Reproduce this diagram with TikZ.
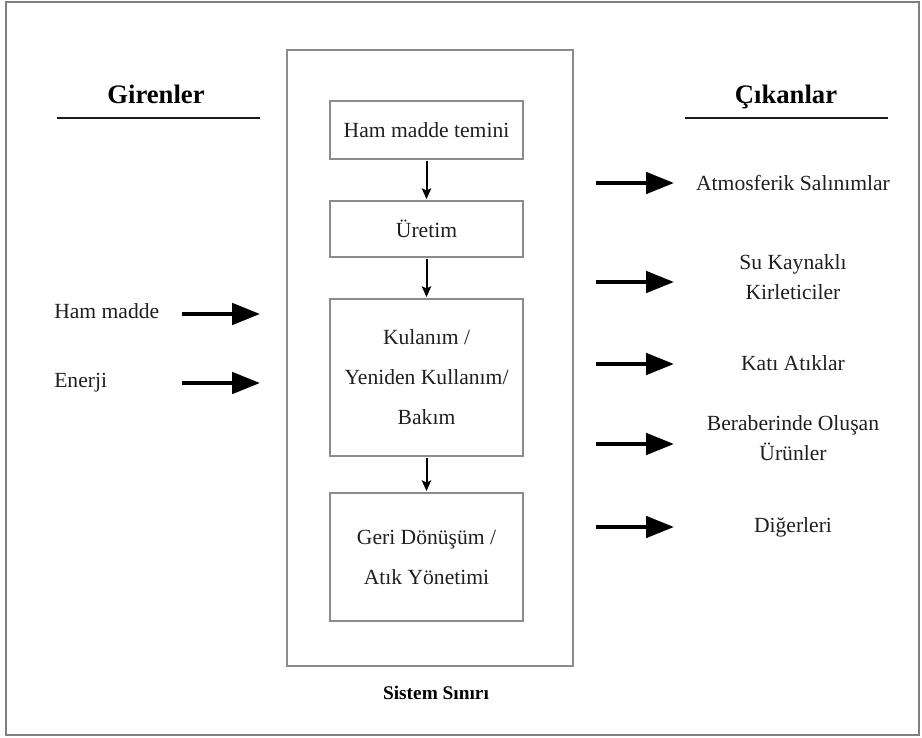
\documentclass[tikz,border=0pt]{standalone}
\usepackage{fontspec}
\setmainfont{Liberation Serif}
\usetikzlibrary{arrows.meta}
\begin{document}
\begin{tikzpicture}[x=0.75pt,y=-0.75pt,
  txt/.style={text=black!88, font=\fontsize{16.2}{22.5}\selectfont, align=center, inner sep=0pt},
  stagebox/.style={draw=black!45, line width=0.9pt, minimum width=144.75pt, inner sep=0pt,
    text=black!88, align=center, font=\fontsize{16.2}{30}\selectfont},
  heading/.style={font=\bfseries\fontsize{20}{24}\selectfont, text=black, inner sep=0pt, anchor=base},
  rule/.style={line width=2.2pt, draw=black!90},
  bigarrow/.style={line width=3pt, -{Triangle[length=21pt,width=16pt]}},
  flowarrow/.style={line width=1.5pt, -{Stealth[length=8pt,width=7pt,inset=1.5pt]}, shorten >=1pt, shorten <=1pt}]

\useasboundingbox (0,0) rectangle (922,738);
% outer frame
\draw[draw=black!50, line width=1pt] (6,2) rectangle (919,735);

% column headings
\node[heading] (inhead) at (156,104) {Girenler};
\node[heading] (outhead) at (786,104) {Çıkanlar};
\draw[rule] (57,118) coordinate (inruleL) -- (260,118) coordinate (inruleR);
\draw[rule] (685,118) coordinate (outruleL) -- (888,118) coordinate (outruleR);

% system boundary with the life-cycle stages
\node[draw=black!45, line width=0.9pt, minimum width=214.5pt, minimum height=462pt] (sys) at (430,358) {};
\node[heading, font=\bfseries\fontsize{14.5}{18}\selectfont] (syslabel) at (436,699) {Sistem Sınırı};

\node[stagebox, minimum height=43.5pt] (s1) at (426.5,130) {Ham madde temini};
\node[stagebox, minimum height=42pt] (s2) at (426.5,229) {Üretim};
\node[stagebox, minimum height=117.75pt] (s3) at (426.5,377.5) {Kulanım /\\Yeniden Kullanım/\\Bakım};
\node[stagebox, minimum height=96pt] (s4) at (426.5,557) {Geri Dönüşüm /\\Atık Yönetimi};

\draw[flowarrow] (s1.south) -- (s2.north);
\draw[flowarrow] (s2.south) -- (s3.north);
\draw[flowarrow] (s3.south) -- (s4.north);

% inputs
\node[txt, anchor=west] (in1) at (54,311) {Ham madde};
\node[txt, anchor=west] (in2) at (54,383) {Enerji};
\coordinate (in1a) at (182,314);
\coordinate (in1b) at (260,314);
\coordinate (in2a) at (182,383);
\coordinate (in2b) at (260,383);
\draw[bigarrow] (in1a) -- (in1b);
\draw[bigarrow] (in2a) -- (in2b);

% outputs
\node[txt] (out1) at (793,183) {Atmosferik Salınımlar};
\node[txt] (out2) at (793,277) {Su Kaynaklı\\Kirleticiler};
\node[txt] (out3) at (793,363) {Katı Atıklar};
\node[txt] (out4) at (793,438) {Beraberinde Oluşan\\Ürünler};
\node[txt] (out5) at (793,527) {Diğerleri};

\foreach \n/\y in {1/183, 2/282, 3/364, 4/444, 5/527} {
  \coordinate (o\n a) at (596,\y);
  \coordinate (o\n b) at (674,\y);
  \draw[bigarrow] (o\n a) -- (o\n b);
}
\end{tikzpicture}
\end{document}
